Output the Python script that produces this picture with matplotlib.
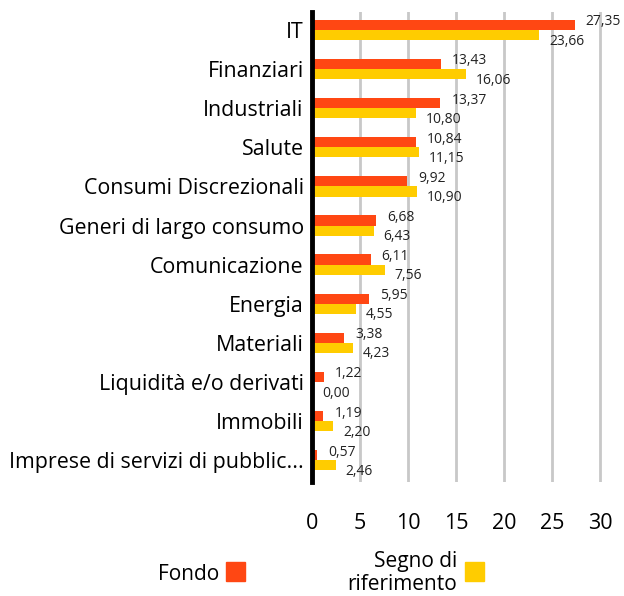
import numpy as np
import matplotlib.pyplot as plt
from matplotlib.patches import Rectangle

plt.rcParams['font.family'] = ['Open Sans', 'DejaVu Sans']

categories = ["IT", "Finanziari", "Industriali", "Salute", "Consumi Discrezionali",
              "Generi di largo consumo", "Comunicazione", "Energia", "Materiali",
              "Liquidità e/o derivati", "Immobili", "Imprese di servizi di pubblic..."]
fondo = [27.35, 13.43, 13.37, 10.84, 9.92, 6.68, 6.11, 5.95, 3.38, 1.22, 1.19, 0.57]
riferimento = [23.66, 16.06, 10.80, 11.15, 10.90, 6.43, 7.56, 4.55, 4.23, 0.00, 2.20, 2.46]

c_fondo = '#FF4713'
c_rif = '#FFCC00'

fig = plt.figure(figsize=(6.24, 5.96), dpi=100)
ax = fig.add_axes([0.5, 0.191, 0.477, 0.789])

y = np.arange(len(categories))
h = 0.26
ax.barh(y - h / 2, fondo, height=h, color=c_fondo, zorder=3)
ax.barh(y + h / 2, riferimento, height=h, color=c_rif, zorder=3)

def fmt(v):
    return f"{v:.2f}".replace('.', ',')

for i, (f, r) in enumerate(zip(fondo, riferimento)):
    ax.annotate(fmt(f), (f, i - h / 2), xytext=(11, 3), textcoords='offset pixels',
                ha='left', va='center', fontsize=10, color='#222222')
    ax.annotate(fmt(r), (r, i + h / 2), xytext=(10, -6), textcoords='offset pixels',
                ha='left', va='center', fontsize=10, color='#222222')

ax.set_xlim(0, 31)
ax.set_ylim(11.56, -0.46)
ax.set_yticks(y)
ax.set_yticklabels(categories, fontsize=15.4)
ax.set_xticks([0, 5, 10, 15, 20, 25, 30])
ax.tick_params(axis='x', length=0, labelsize=15.5, pad=22)
ax.tick_params(axis='y', length=0, pad=6)
ax.grid(axis='x', color='#c8c8c8', linewidth=2, zorder=0)
for s in ['top', 'right', 'bottom']:
    ax.spines[s].set_visible(False)
ax.spines['left'].set_linewidth(3.5)
ax.spines['left'].set_color('black')
ax.spines['left'].set_zorder(4)

# legend
fig.text(219 / 624, 1 - 575 / 596, "Fondo", ha='right', va='center', fontsize=15)
fig.patches.append(Rectangle((226 / 624, 1 - 581 / 596), 19 / 624, 19 / 596,
                             transform=fig.transFigure, color=c_fondo))
fig.text(457 / 624, 1 - 573 / 596, "Segno di\nriferimento", ha='right', va='center',
         fontsize=15, linespacing=1.15)
fig.patches.append(Rectangle((465 / 624, 1 - 581 / 596), 19 / 624, 19 / 596,
                             transform=fig.transFigure, color=c_rif))

fig.savefig('out.png', dpi=100)
